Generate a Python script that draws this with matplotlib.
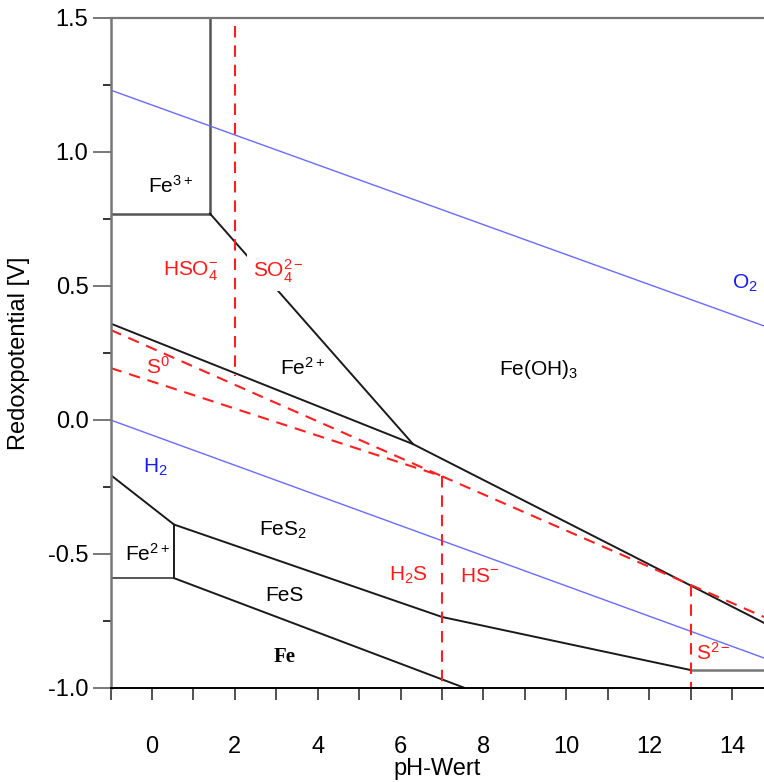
import matplotlib
matplotlib.use("Agg")
import matplotlib.pyplot as plt
from matplotlib.ticker import MultipleLocator

plt.rcParams['font.family'] = ['Liberation Sans', 'DejaVu Sans']
plt.rcParams['mathtext.fontset'] = 'custom'
plt.rcParams['mathtext.rm'] = 'Liberation Sans'
plt.rcParams['mathtext.it'] = 'Liberation Sans:italic'
plt.rcParams['mathtext.bf'] = 'Liberation Sans:bold'

# ---- data (pH, Eh [V]) ----
x_lim = (-1.0, 14.77)
y_lim = (-1.0, 1.5)

# iron boundaries (black / grey)
fe3_vert_x = [1.4, 1.4]
fe3_vert_y = [1.5, 0.77]
fe3_horiz_x = [-1.0, 1.4]
fe3_horiz_y = [0.77, 0.77]
fe2_feoh3_x = [1.4, 6.3]
fe2_feoh3_y = [0.77, -0.09]
upper_black_x = [-1.0, 6.3, 14.77]
upper_black_y = [0.36, -0.09, -0.757]
fes2_left_x = [-1.0, 0.53]
fes2_left_y = [-0.205, -0.39]
fe2box_vert_x = [0.53, 0.53]
fe2box_vert_y = [-0.39, -0.59]
fe2box_horiz_x = [-1.0, 0.53]
fe2box_horiz_y = [-0.59, -0.59]
fes2_fes_x = [0.53, 7.0, 13.0]
fes2_fes_y = [-0.39, -0.735, -0.933]
fes_fe_x = [0.53, 7.55]
fes_fe_y = [-0.59, -1.0]
s2_base_x = [13.0, 14.77]
s2_base_y = [-0.933, -0.933]

# water stability (blue)
o2_x = [-1.0, 14.77]
o2_y = [1.231, 0.351]
h2_x = [-1.0, 14.77]
h2_y = [0.0, -0.888]

# sulfur boundaries (red dashed)
hso4_so4_x = [2.0, 2.0]
hso4_so4_y = [1.47, 0.165]
s0_upper_x = [-1.0, 7.0]
s0_upper_y = [0.336, -0.21]
s0_lower_x = [-1.0, 7.0]
s0_lower_y = [0.194, -0.21]
so4_hs_x = [7.0, 14.77]
so4_hs_y = [-0.21, -0.735]
h2s_hs_x = [7.0, 7.0]
h2s_hs_y = [-0.21, -1.0]
hs_s2_x = [13.0, 13.0]
hs_s2_y = [-0.615, -1.0]

# labels: (text, x, y, colour)
labels = [
    (r'Fe$^{3+}$', 0.45, 0.875, 'black'),
    (r'HSO$_4^{-}$', 0.92, 0.555, 'red'),
    (r'SO$_4^{2-}$', 3.05, 0.555, 'red'),
    (r'Fe$^{2+}$', 3.62, 0.194, 'black'),
    (r'S$^{0}$', 0.15, 0.2, 'red'),
    (r'Fe(OH)$_3$', 9.32, 0.19, 'black'),
    (r'O$_2$', 14.3, 0.51, 'blue'),
    (r'H$_2$', 0.07, -0.175, 'blue'),
    (r'FeS$_2$', 3.17, -0.41, 'black'),
    (r'Fe$^{2+}$', -0.1, -0.498, 'black'),
    ('FeS', 3.19, -0.656, 'black'),
    ('H$_2$S', 6.2, -0.58, 'red'),
    ('HS$^{-}$', 7.9, -0.585, 'red'),
    (r'S$^{2-}$', 13.55, -0.868, 'red'),
]
fe_label = ('Fe', 3.2, -0.884)

x_major = 2
x_minor = 1
y_major = 0.5
y_minor = 0.25

# ---- plotting ----
fig = plt.figure(figsize=(7.64, 7.82), dpi=100)
ax = fig.add_axes([110.6 / 764, (782 - 688) / 782, (764 - 110.6) / 764, 670 / 782])
ax.set_xlim(*x_lim)
ax.set_ylim(*y_lim)

blk = '#1a1a1a'
grey = '#555555'
red = '#ff1f1f'
blue = '#6a6aff'
dash = (0, (5.5, 3.8))

ax.plot(fe3_vert_x, fe3_vert_y, color=grey, lw=1.8)
ax.plot(fe3_horiz_x, fe3_horiz_y, color=grey, lw=1.8)
ax.plot(fe2_feoh3_x, fe2_feoh3_y, color=blk, lw=1.4)
ax.plot(upper_black_x, upper_black_y, color=blk, lw=1.4)
ax.plot(fes2_left_x, fes2_left_y, color=blk, lw=1.4)
ax.plot(fe2box_vert_x, fe2box_vert_y, color=blk, lw=1.4)
ax.plot(fe2box_horiz_x, fe2box_horiz_y, color=grey, lw=1.4)
ax.plot(fes2_fes_x, fes2_fes_y, color=blk, lw=1.4)
ax.plot(fes_fe_x, fes_fe_y, color=blk, lw=1.4)
ax.plot(s2_base_x, s2_base_y, color='#777777', lw=1.8)

ax.plot(o2_x, o2_y, color=blue, lw=1.0)
ax.plot(h2_x, h2_y, color=blue, lw=1.0)

for xs, ys in [(hso4_so4_x, hso4_so4_y), (s0_upper_x, s0_upper_y),
               (s0_lower_x, s0_lower_y), (so4_hs_x, so4_hs_y),
               (h2s_hs_x, h2s_hs_y), (hs_s2_x, hs_s2_y)]:
    ax.plot(xs, ys, color=red, lw=1.5, linestyle=dash)

for txt, x, y, c in labels:
    col = {'black': 'black', 'red': '#ff1a1a', 'blue': '#1a1aff'}[c]
    kw = {}
    if txt.startswith('SO'):
        kw['bbox'] = dict(fc='white', ec='none', pad=4)
    ax.text(x, y, txt, color=col, fontsize=15, ha='center', va='center',
            zorder=5, **kw)
ax.text(fe_label[1], fe_label[2], fe_label[0], fontsize=15, ha='center',
        va='center', family=['Liberation Serif', 'DejaVu Serif'],
        fontweight='bold', zorder=5)

# axes styling
ax.spines['right'].set_visible(False)
ax.spines['top'].set_color('#777777')
ax.spines['top'].set_linewidth(1.6)
ax.spines['left'].set_color('#777777')
ax.spines['left'].set_linewidth(1.8)
ax.spines['bottom'].set_color('black')
ax.spines['bottom'].set_linewidth(1.4)

ax.xaxis.set_major_locator(MultipleLocator(x_major))
ax.xaxis.set_minor_locator(MultipleLocator(x_minor))
ax.yaxis.set_major_locator(MultipleLocator(y_major))
ax.yaxis.set_minor_locator(MultipleLocator(y_minor))
ax.tick_params(axis='x', which='both', direction='out', length=8.6, width=1.2,
               color='#333333', labelsize=17, pad=26)
ax.tick_params(axis='y', which='major', direction='out', length=13, width=1.4,
               color='#777777', labelsize=17, pad=3)
ax.tick_params(axis='y', which='minor', direction='out', length=5.8, width=1.4,
               color='#333333')
ax.yaxis.set_major_formatter(plt.FuncFormatter(lambda v, p: f'{v:.1f}'))
ax.xaxis.set_major_formatter(plt.FuncFormatter(lambda v, p: f'{v:.0f}'))

ax.set_xlabel('pH-Wert', fontsize=17, labelpad=0)
ax.set_ylabel('Redoxpotential [V]', fontsize=17, labelpad=13)

fig.savefig('out.png', dpi=100)
